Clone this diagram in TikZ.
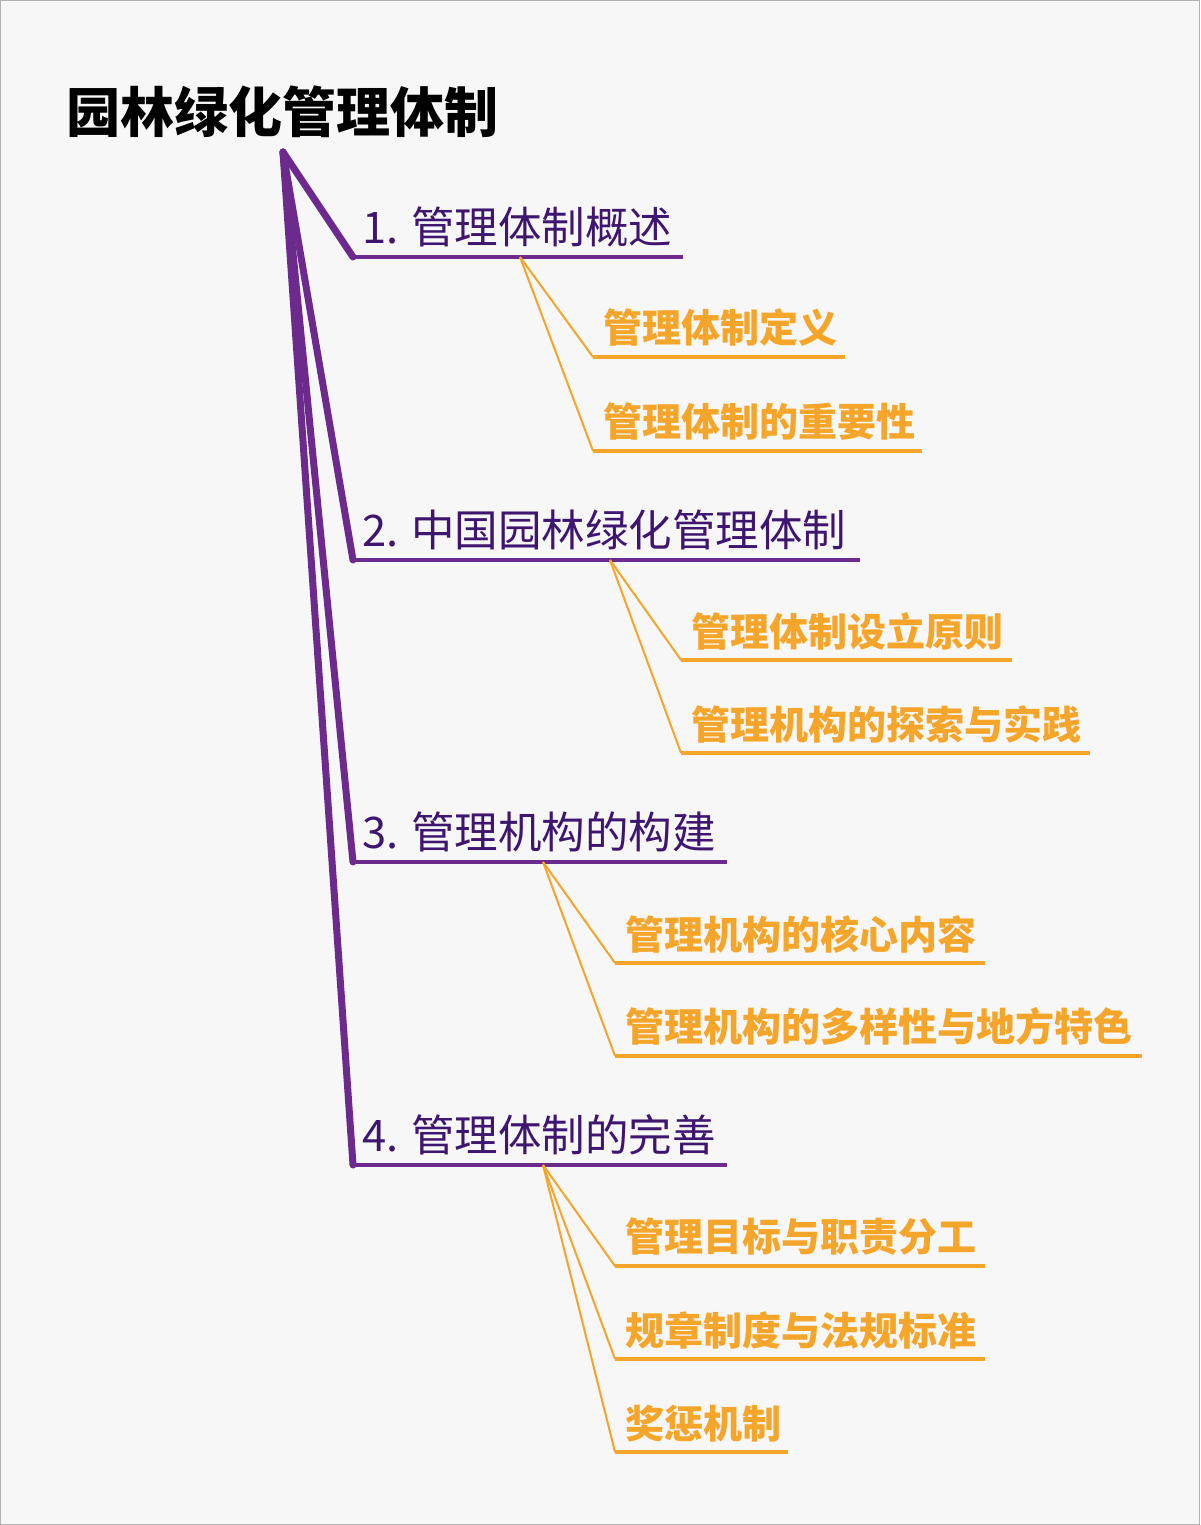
\documentclass[tikz,border=0pt]{standalone}
\usepackage{fontspec}
\setmainfont{Noto Sans CJK SC}
\definecolor{bgc}{HTML}{F7F7F7}
\definecolor{pur}{HTML}{6B2A8C}
\definecolor{purt}{HTML}{3E1670}
\definecolor{org}{HTML}{F5A52A}
\begin{document}
\begin{tikzpicture}[x=1pt,y=-1pt,
  br/.style={draw=pur,line width=7pt,line cap=round},
  ul1/.style={draw=pur,line width=3.5pt},
  ul2/.style={draw=org,line width=3.5pt},
  cl/.style={draw=org,line width=2pt},
  t1/.style={anchor=south west,inner sep=0pt,text=purt,font=\fontsize{43.5}{46}\selectfont},
  t2/.style={anchor=south west,inner sep=0pt,text=org,font=\fontsize{39}{42}\selectfont\bfseries}]
\fill[bgc] (0,0) rectangle (1200,1525);
\draw[gray!60,line width=1pt] (0.5,0.5) rectangle (1199.5,1524.5);
\node[anchor=west,inner sep=0pt,font=\fontsize{54}{58}\selectfont\bfseries] (root) at (66,112) {园林绿化管理体制};
\coordinate (r) at (283,152);
% level 1
\foreach \n/\y/\w/\t in {a/257/683/{1. 管理体制概述},b/560/860/{2. 中国园林绿化管理体制},c/862/727/{3. 管理机构的构建},d/1165/727/{4. 管理体制的完善}}{
  \coordinate (\n0) at (353,\y);
  \coordinate (\n1) at (\w,\y);
  \draw[br] (r) -- (\n0);
  \draw[ul1] (\n0) -- (\n1);
  \node[t1] (\n t) at (362,\y-10) {\t};
}
% level 2
\foreach \s/\px/\py/\x/\y/\w/\t/\k in {
 a/520/257/593/357/845/{管理体制定义}/1,
 a/520/257/593/451/922/{管理体制的重要性}/2,
 b/610/560/681/660/1012/{管理体制设立原则}/1,
 b/610/560/681/753/1090/{管理机构的探索与实践}/2,
 c/543/862/615/963/985/{管理机构的核心内容}/1,
 c/543/862/615/1056/1142/{管理机构的多样性与地方特色}/2,
 d/543/1165/615/1266/985/{管理目标与职责分工}/1,
 d/543/1165/615/1359/985/{规章制度与法规标准}/2,
 d/543/1165/615/1452/788/{奖惩机制}/3}{
  \coordinate (\s p\k) at (\px,\py);
  \coordinate (\s s\k) at (\x,\y);
  \coordinate (\s e\k) at (\w,\y);
  \draw[cl] (\s p\k) -- (\s s\k);
  \draw[ul2] (\s s\k) -- (\s e\k);
  \node[t2] (\s t\k) at (\x+10,\y-10) {\t};
}
\end{tikzpicture}
\end{document}
